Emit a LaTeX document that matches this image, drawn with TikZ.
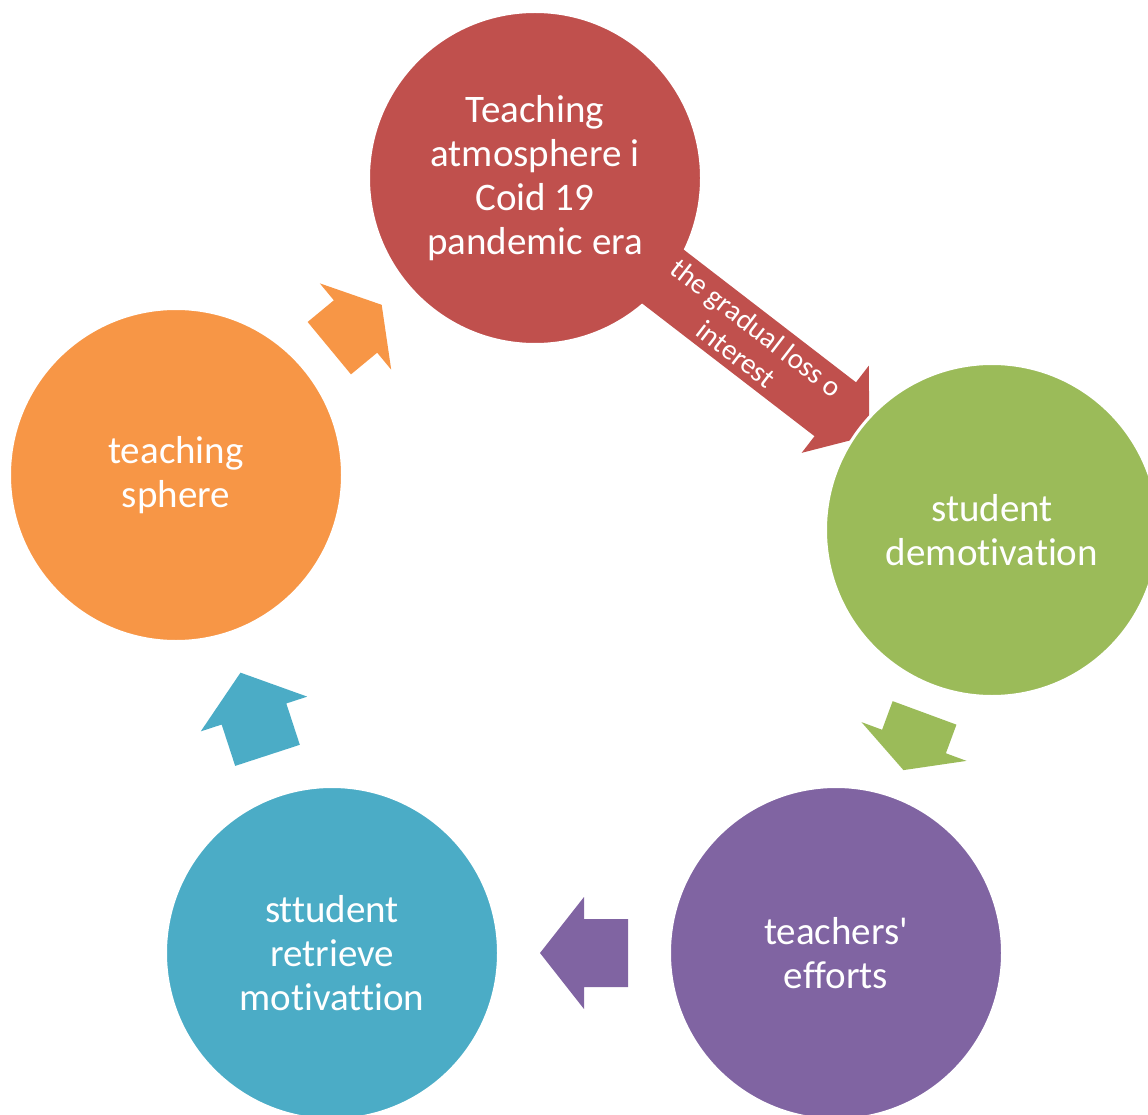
\documentclass[tikz,border=0pt]{standalone}
\usepackage{fontspec}
\setmainfont{Carlito}[Ligatures={NoCommon}]
\usetikzlibrary{calc}
\definecolor{cred}{HTML}{C0504D}
\definecolor{cgreen}{HTML}{9BBB59}
\definecolor{cpurple}{HTML}{8064A2}
\definecolor{cteal}{HTML}{4BACC6}
\definecolor{corange}{HTML}{F79646}
\tikzset{
  bubble/.style={circle, minimum size=333pt, inner sep=0pt, draw=white, line width=3pt,
    text=white, align=center, font=\fontsize{39}{44}\selectfont},
  bubbletext/.style={inner sep=0pt, text=white, align=center, font=\fontsize{39}{44}\selectfont},
  arrowlabel/.style={text=white, align=center, inner sep=0pt, font=\fontsize{29}{33}\selectfont}
}
% #1 from, #2 to, #3 half length, #4 colour
\newcommand\cyclearrow[4]{%
  \coordinate (m#1#2) at ($(#1.center)!0.5!(#2.center)$);
  \coordinate (t#1#2) at ($(m#1#2)!#3!180:(#2.center)$);
  \fill[#4] ($(m#1#2)!#3!(#2.center)$)
    -- ($(m#1#2)!56pt!90:(#2.center)$)
    -- ($(m#1#2)!34pt!90:(#2.center)$)
    -- ($(t#1#2)!34pt!90:(#2.center)$)
    -- ($(t#1#2)!34pt!-90:(#2.center)$)
    -- ($(m#1#2)!34pt!-90:(#2.center)$)
    -- ($(m#1#2)!56pt!-90:(#2.center)$)
    -- cycle;
}
\begin{document}
\begin{tikzpicture}[x=1pt,y=-1pt]
\useasboundingbox (0,0) rectangle (1148,1115);
\clip (0,0) rectangle (1148,1115);
\coordinate (pR) at (535,178);
\coordinate (pG) at (992,530);
\coordinate (pP) at (836,953);
\coordinate (pT) at (332,953);
\coordinate (pO) at (176,475);

\node[bubble, fill=cred] (red) at (pR) {};

% red arrow with label
\coordinate (rb) at ($(pR)!379pt!(pG)$);
\fill[cred] ($(pR)!422pt!(pG)$)
  -- ($(rb)!55pt!90:(pG)$)
  -- ($(rb)!34pt!90:(pG)$)
  -- ($(pR)!34pt!90:(pG)$)
  -- ($(pR)!34pt!-90:(pG)$)
  -- ($(rb)!34pt!-90:(pG)$)
  -- ($(rb)!55pt!-90:(pG)$)
  -- cycle;
\node[bubbletext] (redtext) at (pR) {Teaching\\atmosphere i\\Coid 19\\pandemic era};
\node[arrowlabel, rotate=-37.6] (lbl) at ($(pR)!267pt!(pG)$) {the gradual loss o\\interest};

\node[bubble, fill=cgreen] (green) at (pG) {student\\demotivation};
\node[bubble, fill=cpurple] (purple) at (pP) {teachers\textquotesingle\\efforts};
\node[bubble, fill=cteal] (teal) at (pT) {sttudent\\retrieve\\motivattion};
\node[bubble, fill=corange] (orange) at (pO) {teaching\\sphere};

\cyclearrow{green}{purple}{30.5pt}{cgreen}
\cyclearrow{purple}{teal}{44pt}{cpurple}
\cyclearrow{teal}{orange}{43.5pt}{cteal}
\cyclearrow{orange}{red}{34pt}{corange}
\end{tikzpicture}
\end{document}
